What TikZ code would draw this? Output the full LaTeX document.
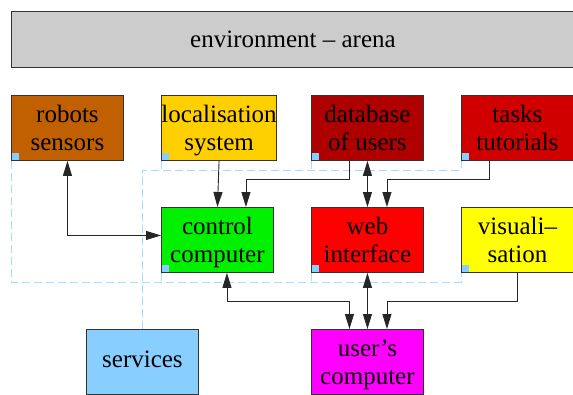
\documentclass[tikz,border=0pt]{standalone}
\usepackage{fontspec}
\setmainfont{Liberation Serif}
\usetikzlibrary{arrows.meta,calc}

\definecolor{cEnv}{HTML}{CCCCCC}
\definecolor{cRob}{HTML}{C06000}
\definecolor{cLoc}{HTML}{FFD000}
\definecolor{cDb}{HTML}{AE0000}
\definecolor{cTask}{HTML}{D00000}
\definecolor{cCtrl}{HTML}{00F000}
\definecolor{cWeb}{HTML}{FF0000}
\definecolor{cVis}{HTML}{FFFF00}
\definecolor{cServ}{HTML}{88CEFF}
\definecolor{cUser}{HTML}{FF00FF}
\definecolor{cMark}{HTML}{88CEFF}
\definecolor{cDash}{HTML}{A6DAFF}

\tikzset{
  unit/.style={draw=black!80, line width=0.9pt, minimum width=112pt,
    minimum height=65pt, inner sep=0pt, align=center, anchor=north west,
    text depth=0pt, font=\fontsize{25}{28}\selectfont},
  corner/.style={fill=cMark},
  bus/.style={draw=cDash, line width=0.9pt, dash pattern=on 8pt off 4pt},
  link/.style={draw=black!85, line width=0.9pt,
    >={Triangle[length=15pt,width=9pt]}},
}

\begin{document}
\begin{tikzpicture}[x=1pt,y=-1pt]
\useasboundingbox (0,0) rectangle (573,394);

% nodes
\node[unit, fill=cEnv, minimum width=563pt, minimum height=56pt] (env) at (11,10.5) {environment -- arena};
\node[unit, fill=cRob]  (rob)   at (11,95)   {robots\\sensors};
\node[unit, fill=cLoc]  (loc)   at (161,95)  {localisation\\system};
\node[unit, fill=cDb]   (db)    at (311,95)  {database\\of users};
\node[unit, fill=cTask] (tasks) at (461,95)  {tasks\\tutorials};
\node[unit, fill=cCtrl] (ctrl)  at (161,207) {control\\computer};
\node[unit, fill=cWeb]  (web)   at (311,207) {web\\interface};
\node[unit, fill=cVis]  (vis)   at (461,207) {visuali--\\sation};
\node[unit, fill=cServ, text height=11pt] (serv)  at (86,329)  {services};
\node[unit, fill=cUser] (user)  at (311,329) {user's\\computer};

% small markers in the lower left corners
\foreach \n in {rob,loc,db,tasks,ctrl,web,vis}
  \fill[corner] ($(\n.south west)+(0.5,-0.5)$) rectangle ++(7,-7);

% dashed service buses
\coordinate (busA) at ($(serv.north)+(1,-159)$);
\coordinate (busB) at ($(serv.north)+(1,-47)$);
\draw[bus] (rob.south west) -- (rob.south west |- busB) -- (vis.south west |- busB) -- (vis.south west);
\draw[bus] (serv.north) -- (serv.north |- busA) -- (tasks.south west |- busA) -- (tasks.south west);
\draw[bus] (loc.south west) -- (loc.south west |- busA);
\draw[bus] (db.south west) -- (db.south west |- busA);
\draw[bus] (ctrl.south west) -- (ctrl.south west |- busB);
\draw[bus] (web.south west) -- (web.south west |- busB);

% connectors
\draw[link,<->] (rob.south) |- ($(ctrl.west)+(0,-4.5)$);
\draw[link,->] (loc.south) -- (ctrl.north);
\draw[link,->] ($(db.south)+(-18,0)$) -- ++(0,19) -| ($(ctrl.north)+(28.5,0)$);
\draw[link,<->] (db.south) -- (web.north);
\draw[link,->] ($(tasks.south)+(-28,0)$) -- ++(0,19) -| ($(web.north)+(19.5,0)$);
\draw[link,<->] ($(ctrl.south)+(9.5,0)$) -- ++(0,29) -| ($(user.north)+(-18,0)$);
\draw[link,<->] (web.south) -- (user.north);
\draw[link,->] (vis.south) -- ++(0,29) -| ($(user.north)+(19.5,0)$);
\end{tikzpicture}
\end{document}
